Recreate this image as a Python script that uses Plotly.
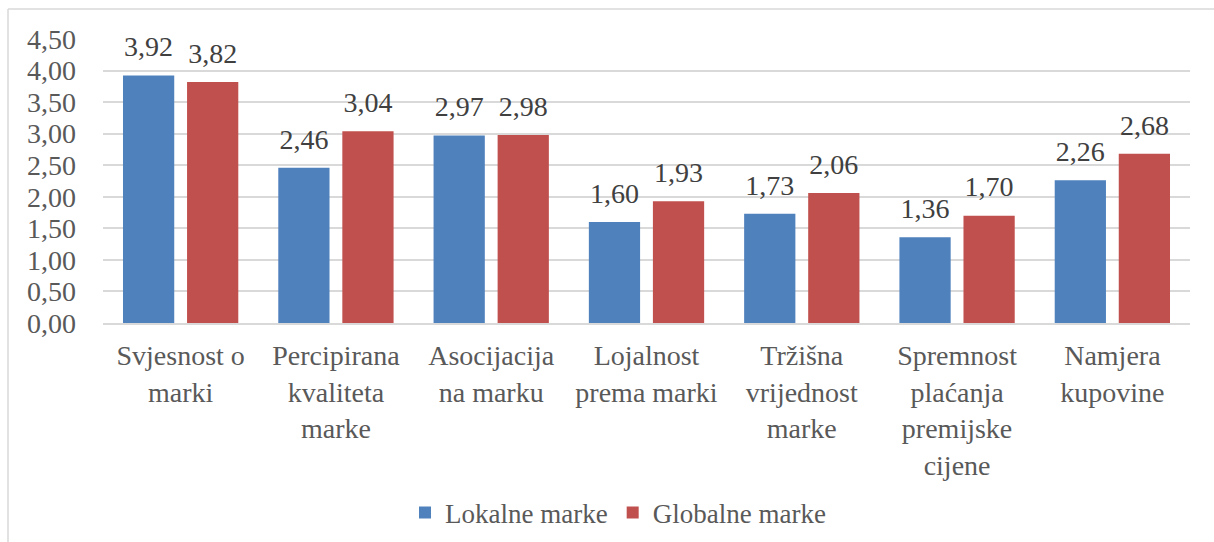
import plotly.graph_objects as go

categories = ["Svjesnost o<br>marki", "Percipirana<br>kvaliteta<br>marke", "Asocijacija<br>na marku",
              "Lojalnost<br>prema marki", "Tržišna<br>vrijednost<br>marke",
              "Spremnost<br>plaćanja<br>premijske<br>cijene", "Namjera<br>kupovine"]
lokalne = [3.92, 2.46, 2.97, 1.60, 1.73, 1.36, 2.26]
globalne = [3.82, 3.04, 2.98, 1.93, 2.06, 1.70, 2.68]
y_ticks = [0, 0.5, 1, 1.5, 2, 2.5, 3, 3.5, 4, 4.5]

font_family = "'Liberation Serif', 'Times New Roman', Tinos, 'DejaVu Serif', serif"
series = [("Lokalne marke", lokalne, "#4F81BD"), ("Globalne marke", globalne, "#C0504D")]

fig = go.Figure()
for i, (name, vals, col) in enumerate(series):
    fig.add_trace(go.Bar(x=categories, y=vals, name=name, marker_color=col,
                         marker_line_width=0, offsetgroup=str(i), hoverinfo="skip"))
for i, (name, vals, col) in enumerate(series):
    fig.add_trace(go.Scatter(x=categories, y=vals, mode="markers+text", offsetgroup=str(i),
                             text=[f"{v:.2f}".replace(".", ",") for v in vals],
                             textposition="top center", showlegend=False, hoverinfo="skip",
                             marker=dict(size=18, opacity=0), cliponaxis=False,
                             textfont=dict(family=font_family, size=28, color="#404040")))

W, H = 1214, 542
ml, mr, mt, mb = 103, 24, 39, 219
pw = W - ml - mr
ph = H - mt - mb
x0 = (8 - ml) / pw
y1 = (H - 9 - mb) / ph

fig.update_layout(
    width=W, height=H,
    margin=dict(l=ml, r=mr, t=mt, b=mb, autoexpand=False),
    paper_bgcolor="white", plot_bgcolor="white",
    separators=",.",
    barmode="group", bargap=0.175, bargroupgap=0.2,
    scattermode="group", scattergap=0.175,
    font=dict(family=font_family, size=28, color="#595959"),
    showlegend=True,
    legend=dict(orientation="h", x=(618 - ml) / pw, xanchor="center", y=-190 / ph,
                yanchor="middle",
                font=dict(family=font_family, size=27, color="#595959"),
                itemsizing="constant", traceorder="normal", itemwidth=30),
    xaxis=dict(showgrid=False, showline=True, linecolor="#D9D9D9", linewidth=1.5,
               ticks="", tickfont=dict(family=font_family, size=28, color="#595959"),
               automargin=False, ticklabelstandoff=7),
    yaxis=dict(range=[0, 4.5], tickvals=y_ticks, tickformat=".2f", showgrid=True,
               gridcolor="#D9D9D9", gridwidth=1.5, zeroline=False, showline=False,
               ticks="", tickfont=dict(family=font_family, size=28, color="#595959"),
               ticklabelstandoff=26, automargin=False),
    shapes=[
        dict(type="line", xref="paper", yref="paper", x0=x0, x1=1 + mr / pw, y0=y1, y1=y1,
             line=dict(color="#D9D9D9", width=1.5)),
        dict(type="line", xref="paper", yref="paper", x0=x0, x1=x0, y0=y1, y1=-mb / ph,
             line=dict(color="#D9D9D9", width=1.5)),
    ],
)
fig.write_html("out.html", config={"displayModeBar": False},
               post_script="document.body.style.margin='0';document.body.style.overflow='hidden';")
